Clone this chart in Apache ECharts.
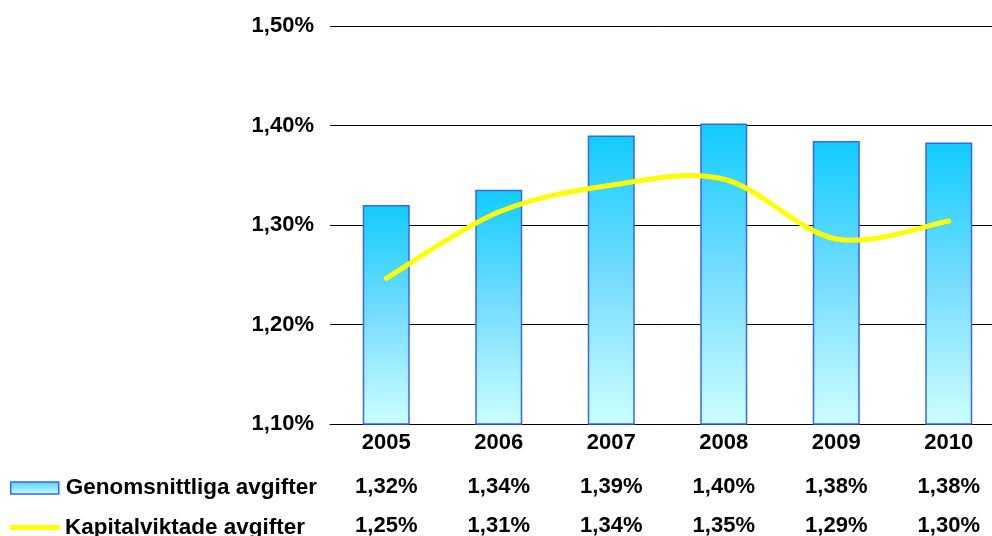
<!DOCTYPE html>
<html><head><meta charset="utf-8">
<script src="https://cdn.jsdelivr.net/npm/echarts@6/dist/echarts.min.js"></script>
<style>html,body{margin:0;padding:0;background:#fff}#c{width:992px;height:536px}</style>
</head><body><div id="c"></div>
<script>
const categories = ['2005','2006','2007','2008','2009','2010'];
const barName = 'Genomsnittliga avgifter';
const lineName = 'Kapitalviktade avgifter';
const barValues = [1.320, 1.3355, 1.390, 1.402, 1.3845, 1.3828];
const lineValues = [1.2464, 1.313, 1.340, 1.346, 1.286, 1.304];
const yTicks = [1.10, 1.20, 1.30, 1.40, 1.50];

const FONT = "'Liberation Sans', Arial, sans-serif";
const fmt = v => v.toFixed(2).replace('.', ',') + '%';
const barGrad = new echarts.graphic.LinearGradient(0,0,0,1,[
  {offset:0,color:'#11CCFF'},{offset:0.5,color:'#77DDFF'},{offset:1,color:'#CCFFFF'}]);
const legendGrad = new echarts.graphic.LinearGradient(0,0,0,1,[
  {offset:0,color:'#55CCFF'},{offset:1,color:'#CCFFFF'}]);

// Excel-like smoothed line (Catmull-Rom through the data points, via axis coords)
function renderSmooth(params, api) {
  if (params.dataIndex !== 0) return null;
  const pts = lineValues.map((v, i) => api.coord([i, v]));
  let d = 'M' + pts[0][0] + ',' + pts[0][1];
  for (let i = 0; i < pts.length - 1; i++) {
    const p0 = pts[Math.max(i - 1, 0)], p1 = pts[i], p2 = pts[i + 1], p3 = pts[Math.min(i + 2, pts.length - 1)];
    const c1 = [p1[0] + (p2[0] - p0[0]) / 6, p1[1] + (p2[1] - p0[1]) / 6];
    const c2 = [p2[0] - (p3[0] - p1[0]) / 6, p2[1] - (p3[1] - p1[1]) / 6];
    d += ' C' + c1[0] + ',' + c1[1] + ' ' + c2[0] + ',' + c2[1] + ' ' + p2[0] + ',' + p2[1];
  }
  return {type:'path', shape:{pathData:d}, style:{fill:null, stroke:'#FFFF00', lineWidth:5, lineCap:'round', lineJoin:'round'}};
}

const chart = echarts.init(document.getElementById('c'), null, {renderer:'canvas'});
const labelStyle = {color:'#000', fontWeight:'bold', fontSize:22, fontFamily:FONT};
const legendText = {color:'#000', fontWeight:'bold', fontSize:22.5, fontFamily:FONT, lineHeight:24};
chart.setOption({
  animation:false,
  grid:{left:330, width:675, top:26, bottom:112, containLabel:false, outerBoundsMode:'none'},
  legend:[
    {left:10, top:476, padding:0, itemWidth:48, itemHeight:12,
     textStyle:{...legendText, padding:[0,0,0,2]},
     data:[{name:barName, icon:'rect', itemStyle:{color:legendGrad, borderColor:'#3366FF', borderWidth:1.5}}]},
    {left:10, top:514, padding:0, itemWidth:50, itemHeight:5,
     textStyle:{...legendText, padding:[3,0,0,0]},
     data:[{name:lineName, icon:'roundRect', itemStyle:{color:'#FFFF00'}}]}
  ],
  xAxis:[
    {type:'category', data:categories, axisLine:{lineStyle:{color:'#000',width:1}}, axisTick:{show:false},
     axisLabel:{...labelStyle, margin:8}},
    {type:'category', data:categories, position:'bottom', offset:44, axisLine:{show:false}, axisTick:{show:false},
     axisLabel:{...labelStyle, margin:8, formatter:(v,i)=>fmt(barValues[i])}},
    {type:'category', data:categories, position:'bottom', offset:83, axisLine:{show:false}, axisTick:{show:false},
     axisLabel:{...labelStyle, margin:8, formatter:(v,i)=>fmt(lineValues[i])}}
  ],
  yAxis:{type:'value', min:yTicks[0], max:yTicks[yTicks.length-1], interval:0.1,
    axisLine:{show:false}, axisTick:{show:false},
    splitLine:{lineStyle:{color:'#000',width:1}},
    axisLabel:{...labelStyle, margin:16, formatter:v=>fmt(v)}},
  series:[
    {name:barName, type:'bar', data:barValues, barWidth:47,
     itemStyle:{color:barGrad, borderColor:'#3366FF', borderWidth:1.5}},
    {name:lineName, type:'custom', data:lineValues.map((v,i)=>[i,v]), renderItem:renderSmooth,
     itemStyle:{color:'#FFFF00'}, encode:{x:0,y:1}, z:3}
  ]
});
</script></body></html>
